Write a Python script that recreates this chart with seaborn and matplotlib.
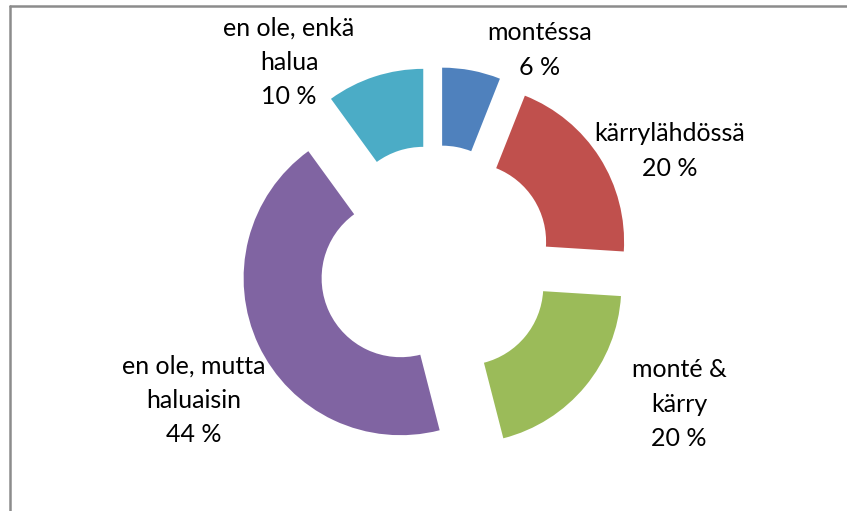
import matplotlib
matplotlib.use("Agg")
import matplotlib.pyplot as plt
from matplotlib.lines import Line2D
import seaborn as sns

# ============================================================
# DATA
# ============================================================
categories = ["montéssa", "kärrylähdössä", "monté &\nkärry",
              "en ole, mutta\nhaluaisin", "en ole, enkä\nhalua"]
shares = [6, 20, 20, 44, 10]
colors = ["#4F81BD", "#C0504D", "#9BBB59", "#8064A2", "#4BACC6"]

# label anchor points in pixel coords (x, y from top)
label_pos = [(540, 50), (670, 151), (679, 404), (194, 400), (289, 62)]

# ============================================================
# FIGURE
# ============================================================
W, H = 847, 511
sns.set_theme(style="white")
plt.rcParams['font.family'] = ['Lato', 'DejaVu Sans']

fig = plt.figure(figsize=(W / 100, H / 100), dpi=100)
ax = fig.add_axes([0, 0, 1, 1])

# chart frame (only top and left edges are visible in the crop)
ax.add_line(Line2D([10, W], [H - 6, H - 6], color="#8c8c8c", lw=1.8))
ax.add_line(Line2D([10, 10], [0, H - 6], color="#8c8c8c", lw=1.8))

# exploded donut (explode is an absolute offset in data units here)
radius = 157
ring = 78
ax.pie(shares, colors=colors, startangle=90, counterclock=False,
       center=(435, H - 262), radius=radius, explode=[38] * len(shares),
       wedgeprops=dict(width=ring, linewidth=0), frame=True)
ax.set_xlim(0, W)
ax.set_ylim(0, H)
ax.set_aspect("equal")
ax.axis("off")

for name, v, (x, y) in zip(categories, shares, label_pos):
    ax.text(x, H - y, f"{name}\n{v} %", ha="center", va="center",
            fontsize=18, color="black", linespacing=1.6)

fig.savefig("out.png", dpi=100)
